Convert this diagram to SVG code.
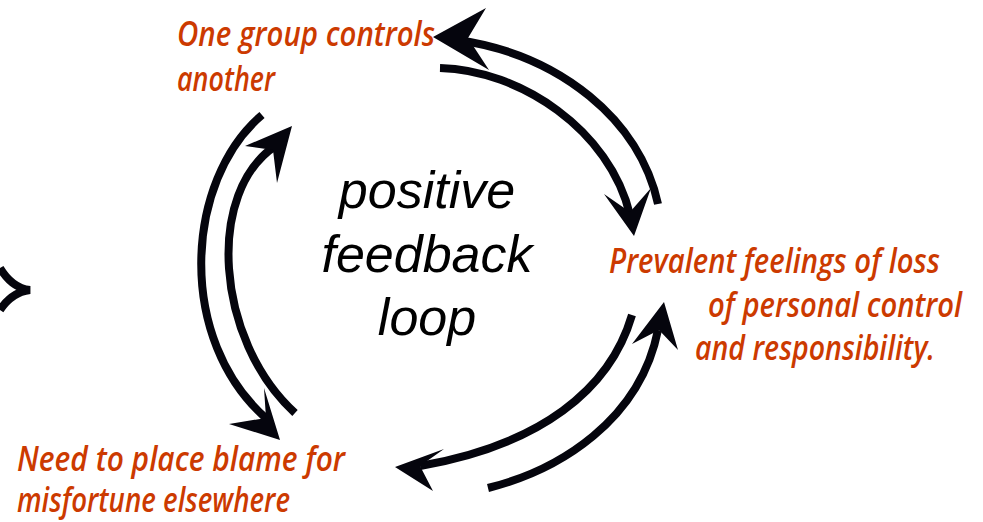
<svg xmlns="http://www.w3.org/2000/svg" width="983" height="522" viewBox="0 0 983 522">
  <style>
    .lbl { font-family: "Open Sans", "Noto Sans", sans-serif; font-style: italic; font-weight: 600; font-size: 35px; fill: #CC3A00; }
    .core { font-family: "Liberation Sans", Arial, sans-serif; font-style: italic; font-size: 52px; fill: #000; text-anchor: middle; }
    .shaft { fill: none; stroke: #05050d; stroke-width: 8; stroke-linecap: butt; }
    .head { fill: #05050d; }
  </style>
  <rect width="983" height="522" fill="#fff"/>

  <g id="connectors">
    <!-- top-right pair -->
    <path class="shaft" d="M658,204 C640,120 560,55 458,40"/>
    <polygon class="head" points="433,37 486,8 468,38 489,70"/>
    <path class="shaft" d="M440,68 C520,70 610,130 630,215"/>
    <polygon class="head" points="634,236 604,194 630,212 651,188"/>
    <!-- left pair -->
    <path class="shaft" d="M262,115 C185,180 175,340 268,420"/>
    <polygon class="head" points="280,440 229,424 266,418 264,388"/>
    <path class="shaft" d="M295,413 C215,340 205,190 277,145"/>
    <polygon class="head" points="292,126 277,183 273,150 245,146"/>
    <!-- bottom-right pair -->
    <path class="shaft" d="M488,488 C560,470 640,420 658,330"/>
    <polygon class="head" points="664,302 678,350 659,330 632,344"/>
    <path class="shaft" d="M632,315 C610,390 540,445 420,466"/>
    <polygon class="head" points="395,467 444,449 420,466 433,491"/>
    <!-- partial mark at left edge -->
    <path class="shaft" stroke-width="6" d="M0,268 Q12,288 30,290 Q12,292 0,310"/>
  </g>

  <g id="node-control">
    <text class="lbl" x="177" y="46" textLength="258" lengthAdjust="spacingAndGlyphs">One group controls</text>
    <text class="lbl" x="177" y="91" textLength="98" lengthAdjust="spacingAndGlyphs">another</text>
  </g>

  <g id="node-center">
    <text class="core" x="427" y="208">positive</text>
    <text class="core" x="427" y="272">feedback</text>
    <text class="core" x="427" y="335">loop</text>
  </g>

  <g id="node-loss">
    <text class="lbl" x="609" y="273" textLength="331" lengthAdjust="spacingAndGlyphs">Prevalent feelings of loss</text>
    <text class="lbl" x="708" y="317" textLength="254" lengthAdjust="spacingAndGlyphs">of personal control</text>
    <text class="lbl" x="695" y="360" textLength="240" lengthAdjust="spacingAndGlyphs">and responsibility.</text>
  </g>

  <g id="node-blame">
    <text class="lbl" x="17" y="471" textLength="328" lengthAdjust="spacingAndGlyphs">Need to place blame for</text>
    <text class="lbl" x="17" y="512" textLength="273" lengthAdjust="spacingAndGlyphs">misfortune elsewhere</text>
  </g>
</svg>
